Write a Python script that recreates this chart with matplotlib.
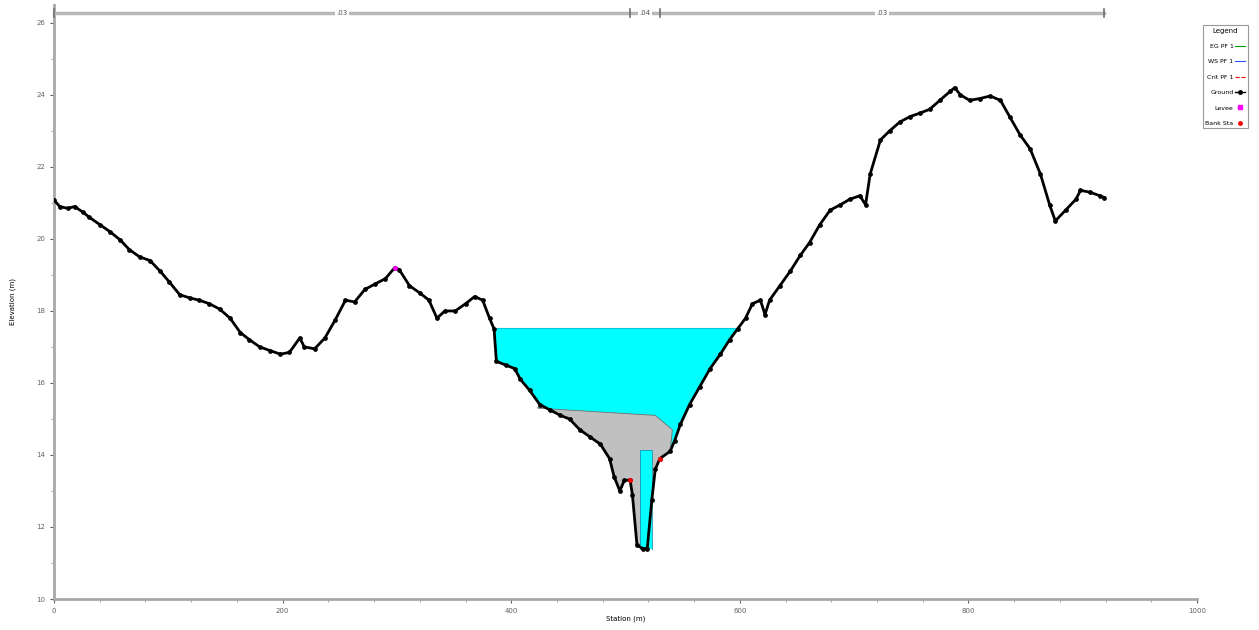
'''xsec_plot.py

   Cross section plot: ground, water surface, obstruction and legend.
'''

import numpy as np
import matplotlib.pyplot as plt
from matplotlib.lines import Line2D


#
#  Ground survey (station, elevation)
#
station = [0, 5, 12, 18, 25, 31, 40, 49, 58, 66, 75, 84, 93, 101, 110, 119,
           127, 136, 145, 154, 163, 171, 180, 189, 198, 206, 215, 219, 228,
           237, 246, 255, 263, 272, 281, 290, 298, 302, 311, 320, 328, 335,
           342, 351, 360, 368, 375, 381, 385, 387, 395, 403, 408, 416, 425,
           434, 443, 451, 460, 469, 478, 486, 490, 495, 499, 504, 506, 510,
           515, 519, 523, 526, 530, 539, 543, 548, 556, 565, 574, 583, 591,
           598, 605, 611, 618, 622, 626, 635, 644, 653, 661, 670, 679, 688,
           696, 705, 710, 714, 723, 731, 740, 749, 758, 766, 775, 784, 788,
           793, 801, 810, 819, 828, 836, 845, 854, 863, 871, 876, 885, 894,
           898, 906, 915, 919]
elev = [21.08, 20.9, 20.85, 20.9, 20.75, 20.6, 20.4, 20.2, 19.97, 19.7, 19.5,
        19.4, 19.1, 18.8, 18.45, 18.36, 18.3, 18.2, 18.05, 17.8, 17.4, 17.2,
        17.0, 16.9, 16.8, 16.85, 17.25, 17.0, 16.95, 17.25, 17.75, 18.3,
        18.25, 18.6, 18.75, 18.9, 19.2, 19.15, 18.7, 18.5, 18.3, 17.8, 18.0,
        18.0, 18.2, 18.4, 18.3, 17.8, 17.5, 16.6, 16.5, 16.4, 16.1, 15.8,
        15.4, 15.25, 15.1, 15.0, 14.7, 14.5, 14.3, 13.9, 13.4, 13.0, 13.3,
        13.3, 12.9, 11.5, 11.4, 11.4, 12.75, 13.6, 13.9, 14.1, 14.4, 14.85,
        15.4, 15.9, 16.4, 16.8, 17.2, 17.5, 17.8, 18.2, 18.3, 17.9, 18.3,
        18.7, 19.1, 19.55, 19.9, 20.4, 20.8, 20.95, 21.1, 21.2, 20.95, 21.8,
        22.75, 23.0, 23.25, 23.4, 23.5, 23.6, 23.85, 24.1, 24.2, 24.0, 23.85,
        23.9, 23.97, 23.85, 23.4, 22.9, 22.5, 21.8, 20.95, 20.5, 20.8, 21.1,
        21.35, 21.3, 21.2, 21.15]

# Water surface and bank stations
ws_elev = 17.53
ws_sta = [386, 598]
bank_sta = [504, 530]
bank_elev = [13.3, 13.9]
levee_sta = [298]
levee_elev = [19.2]

# Blocked obstruction outline (top edge, then back along ground)
obs_sta = [423, 526, 541]
obs_top = [15.3, 15.1, 14.7]

# Main channel slot inside the obstruction
slot_sta = [513, 523]
slot_elev = [11.4, 14.15]

# Manning's n breaks along the top
n_sta = [0, 504, 530, 919]
n_vals = ['.03', '.04', '.03']


#
#  Plot
#
fig = plt.figure(figsize=(12.59, 6.30), dpi=100)
ax = fig.add_axes([0.0429, 0.0492, 0.9079, 0.943])

sta = np.array(station, dtype=float)
z = np.array(elev, dtype=float)

# Water fill between ground and WS
ax.fill_between(sta, z, ws_elev,
                where=(z < ws_elev) & (sta > 350) & (sta < 650),
                interpolate=True, color='#00ffff', linewidth=0, zorder=1)

# Obstruction polygon: top edge then ground back to the start
mask = (sta >= obs_sta[0]) & (sta <= obs_sta[-1])
gx = np.concatenate([obs_sta, sta[mask][::-1]])
gy = np.concatenate([obs_top, z[mask][::-1]])
ax.fill(gx, gy, facecolor='#c0c0c0', edgecolor='#707070', linewidth=0.6,
        zorder=2)

# Channel slot
ax.fill_between(slot_sta, slot_elev[0], slot_elev[1], color='#00ffff',
                linewidth=0, zorder=3)
ax.plot([slot_sta[0], slot_sta[0], slot_sta[1], slot_sta[1]],
        [slot_elev[0], slot_elev[1], slot_elev[1], slot_elev[0]],
        color='#2090b0', lw=0.6, zorder=3)

# Water surface line
ax.plot(ws_sta, [ws_elev, ws_elev], color='#00c8d8', lw=0.8, zorder=3)

# Ground
ax.plot(sta, z, color='black', lw=2.0, marker='o', ms=2.4, zorder=5)
ax.plot(levee_sta, levee_elev, 'o', color='magenta', ms=2.5, zorder=6)
ax.plot(bank_sta, bank_elev, 'o', color='red', ms=2.5, zorder=6)

# Manning's n bar along the top
ybar = 26.28
ax.plot([n_sta[0], n_sta[-1]], [ybar, ybar], color='#b8b8b8', lw=2.5,
        zorder=4, clip_on=False)
for s in n_sta:
    ax.plot([s, s], [ybar - 0.12, ybar + 0.12], color='#707070', lw=1.2,
            zorder=5, clip_on=False)
for i in range(len(n_vals)):
    mid = 0.5 * (n_sta[i] + n_sta[i + 1])
    ax.text(mid, ybar, n_vals[i], fontsize=5, ha='center', va='center',
            color='#505050', zorder=6,
            bbox=dict(facecolor='white', edgecolor='none', pad=1))

ax.set_xlim(0, 1000)
ax.set_ylim(10, 26.5)
ax.set_xticks(np.arange(0, 1001, 200))
ax.set_xticks(np.arange(0, 1001, 40), minor=True)
ax.set_yticks(np.arange(10, 27, 2))
ax.set_yticks(np.arange(10, 27, 1), minor=True)
ax.tick_params(labelsize=5, colors='#606060', length=3, width=0.8)
ax.tick_params(which='minor', length=2, width=0.6, colors='#909090')
for side in ['top', 'right']:
    ax.spines[side].set_visible(False)
for side in ['left', 'bottom']:
    ax.spines[side].set_color('#a8a8a8')
    ax.spines[side].set_linewidth(2.0)

ax.set_xlabel('Station (m)', fontsize=5, labelpad=1)
ax.set_ylabel('Elevation (m)', fontsize=5)
ax.yaxis.set_label_coords(-0.033, 0.5)

# Legend
handles = [
    Line2D([], [], color='#00a000', lw=0.8, label='EG PF 1'),
    Line2D([], [], color='#3050ff', lw=0.8, label='WS PF 1'),
    Line2D([], [], color='red', lw=0.8, ls='--', label='Crit PF 1'),
    Line2D([], [], color='black', lw=1.0, marker='o', ms=2.5, label='Ground'),
    Line2D([], [], color='magenta', lw=0, marker='s', ms=2.5, label='Levee'),
    Line2D([], [], color='red', lw=0, marker='o', ms=2.5, label='Bank Sta'),
]
leg = fig.legend(handles=handles, title='Legend', loc='upper left',
                 bbox_to_anchor=(0.953, 0.965), fontsize=4.5,
                 title_fontsize=5, markerfirst=False, handlelength=1.6,
                 frameon=True, fancybox=False, borderpad=0.4,
                 labelspacing=1.6, handletextpad=0.3)
leg.get_frame().set_edgecolor('#808080')
leg.get_frame().set_linewidth(0.8)

fig.savefig('out.png', dpi=100)
